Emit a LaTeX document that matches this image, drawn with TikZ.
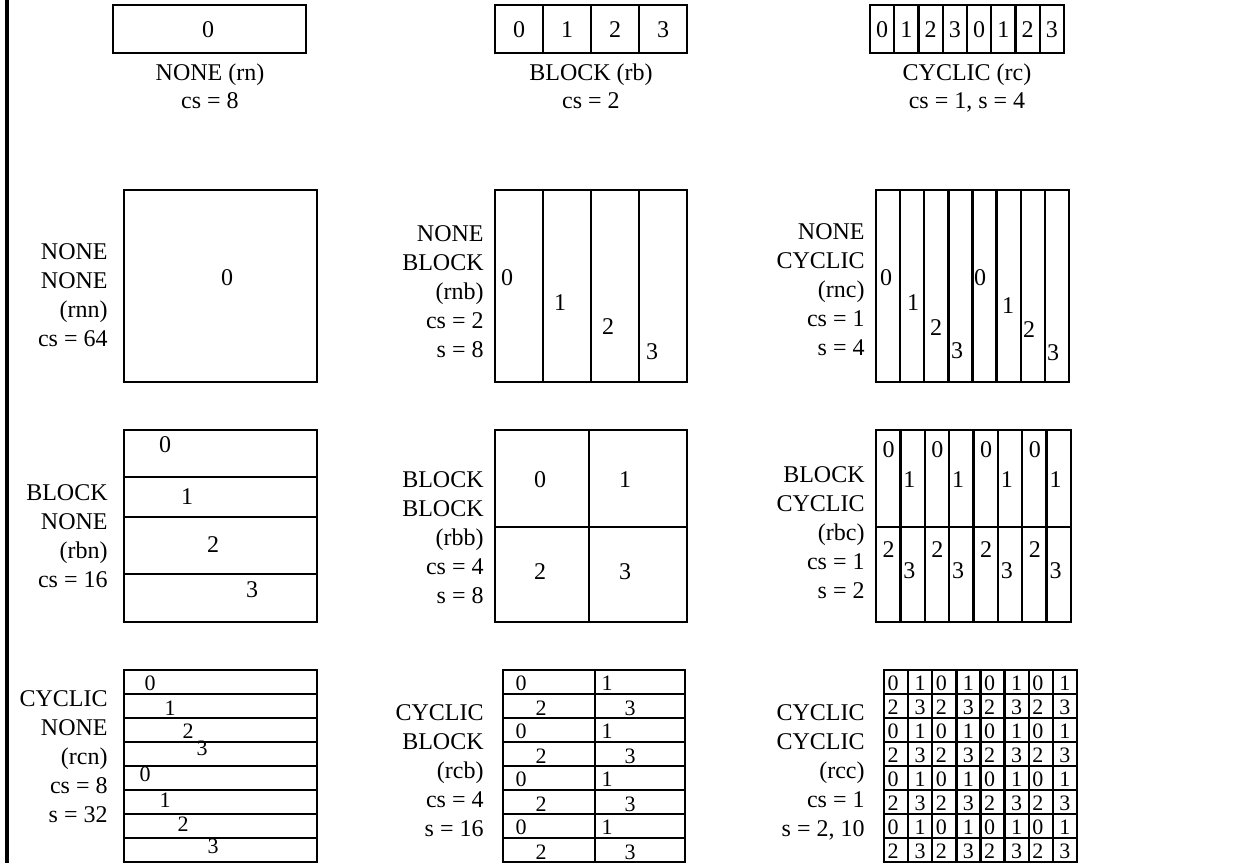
\documentclass[tikz,border=0pt]{standalone}
\usepackage{fontspec}
\setmainfont{Liberation Serif}
\usetikzlibrary{positioning}

\begin{document}
\begin{tikzpicture}[
    x=0.5pt, y=-0.5pt,
    grid/.style={draw, line width=1.2pt},
    num/.style={inner sep=0pt, font=\fontsize{12}{14}\selectfont},
    smallnum/.style={inner sep=0pt, font=\fontsize{11}{13}\selectfont},
    side/.style={anchor=east, align=right, inner sep=0pt, font=\fontsize{12}{14.5}\selectfont},
    under/.style={anchor=north, align=center, inner sep=0pt, font=\fontsize{12}{14}\selectfont}
]
\useasboundingbox (0,0) rectangle (1252,863);
\draw[line width=2pt] (7,0) -- (7,863);

% one dimension
\draw[grid] (113,5) rectangle (306,53);
\node[num] (rn-0) at (208,29.5) {0};
\node[under] (rn) at (210,63) {NONE (rn)\\cs = 8};

\draw[grid] (495,5) rectangle (687,53);
\foreach \i in {1,2,3} \draw[grid] (495+48*\i,5) -- (495+48*\i,53);
\foreach \i in {0,...,3} \node[num] (rb-\i) at (519+48*\i,29.5) {\i};
\node[under] (rb) at (591,63) {BLOCK (rb)\\cs = 2};

\draw[grid] (870,5) rectangle (1064,53);
\foreach \i in {1,...,7} \draw[grid] (870+24.25*\i,5) -- (870+24.25*\i,53);
\foreach \i in {0,...,7} {
    \pgfmathtruncatemacro\d{mod(\i,4)}
    \node[num] (rc-\i) at (882+24.25*\i,29.5) {\d};
}
\node[under] (rc) at (967,63) {CYCLIC (rc)\\cs = 1, s = 4};

% rows NONE
\draw[grid] (124,190) rectangle (317,382);
\node[num] (rnn-0) at (227,278) {0};
\node[side] (rnn) at (108,295) {NONE\\NONE\\(rnn)\\cs = 64};

\draw[grid] (495,190) rectangle (687,382);
\foreach \i in {1,2,3} \draw[grid] (495+48*\i,190) -- (495+48*\i,382);
\foreach \d/\px/\py in {0/507/278, 1/560/303, 2/608/327, 3/652/352}
    \node[num] (rnb-\d) at (\px,\py) {\d};
\node[side] (rnb) at (484,292) {NONE\\BLOCK\\(rnb)\\cs = 2\\s = 8};

\draw[grid] (876,190) rectangle (1069,382);
\foreach \i in {1,...,7} \draw[grid] (876+24.125*\i,190) -- (876+24.125*\i,382);
\foreach \d/\px/\py [count=\i] in {0/886/278, 1/913/303, 2/936/328, 3/957/351,
        0/980/278, 1/1008/306, 2/1029/330, 3/1053/353}
    \node[num] (rnc-\i) at (\px,\py) {\d};
\node[side] (rnc) at (865,290) {NONE\\CYCLIC\\(rnc)\\cs = 1\\s = 4};

% rows BLOCK
\draw[grid] (124,430) rectangle (317,622);
\foreach \yy in {477,517,574} \draw[grid] (124,\yy) -- (317,\yy);
\foreach \d/\px/\py in {0/165/445, 1/187/497, 2/213/545, 3/252/590}
    \node[num] (rbn-\d) at (\px,\py) {\d};
\node[side] (rbn) at (108,536) {BLOCK\\NONE\\(rbn)\\cs = 16};

\draw[grid] (495,430) rectangle (687,622);
\draw[grid] (589,430) -- (589,622);
\draw[grid] (495,527) -- (687,527);
\foreach \d/\px/\py in {0/540/480, 1/625/480, 2/540/572, 3/625/572}
    \node[num] (rbb-\d) at (\px,\py) {\d};
\node[side] (rbb) at (484,538) {BLOCK\\BLOCK\\(rbb)\\cs = 4\\s = 8};

\draw[grid] (876,430) rectangle (1071,622);
\foreach \i in {1,...,7} \draw[grid] (876+24.375*\i,430) -- (876+24.375*\i,622);
\draw[grid] (876,527) -- (1071,527);
\foreach \c in {0,...,7} {
    \pgfmathtruncatemacro\p{mod(\c,2)}
    \pgfmathsetmacro\px{876+24.375*\c+12.5-3.5*\p}
    \ifnum\p=0
        \node[num] (rbc-0-\c) at (\px,450) {0};
        \node[num] (rbc-1-\c) at (\px,549.5) {2};
    \else
        \node[num] (rbc-0-\c) at (\px,479.5) {1};
        \node[num] (rbc-1-\c) at (\px,571) {3};
    \fi
}
\node[side] (rbc) at (865,533) {BLOCK\\CYCLIC\\(rbc)\\cs = 1\\s = 2};

% rows CYCLIC
\draw[grid] (124,670) rectangle (317,862);
\foreach \i in {1,...,7} \draw[grid] (124,670+24*\i) -- (317,670+24*\i);
\foreach \d/\px/\py [count=\i] in {0/150/683, 1/170/708, 2/188/731, 3/202/748,
        0/145/774, 1/165/800, 2/183/824, 3/213/846}
    \node[smallnum] (rcn-\i) at (\px,\py) {\d};
\node[side] (rcn) at (108,757) {CYCLIC\\NONE\\(rcn)\\cs = 8\\s = 32};

\draw[grid] (503,670) rectangle (685,862);
\draw[grid] (595,670) -- (595,862);
\foreach \i in {1,...,7} \draw[grid] (503,670+24*\i) -- (685,670+24*\i);
\foreach \r in {0,...,7} {
    \pgfmathtruncatemacro\p{mod(\r,2)}
    \ifnum\p=0
        \node[smallnum] (rcb-\r-0) at (521,683.5+24*\r) {0};
        \node[smallnum] (rcb-\r-1) at (607,683.5+24*\r) {1};
    \else
        \node[smallnum] (rcb-\r-0) at (541,684.5+24*\r) {2};
        \node[smallnum] (rcb-\r-1) at (630,684.5+24*\r) {3};
    \fi
}
\node[side] (rcb) at (484,771) {CYCLIC\\BLOCK\\(rcb)\\cs = 4\\s = 16};

\draw[grid] (884,670) rectangle (1077,862);
\foreach \i in {1,...,7} {
    \draw[grid] (884+24.125*\i,670) -- (884+24.125*\i,862);
    \draw[grid] (884,670+24*\i) -- (1077,670+24*\i);
}
\foreach \r in {0,...,7} \foreach \c in {0,...,7} {
    \pgfmathtruncatemacro\d{2*mod(\r,2)+mod(\c,2)}
    \pgfmathsetmacro\px{884+24.125*\c+9+3*mod(\c,2)}
    \node[smallnum] (rcc-\r-\c) at (\px,683.5+24*\r) {\d};
}
\node[side] (rcc) at (865,772) {CYCLIC\\CYCLIC\\(rcc)\\cs = 1\\s = 2, 10};
\end{tikzpicture}
\end{document}
